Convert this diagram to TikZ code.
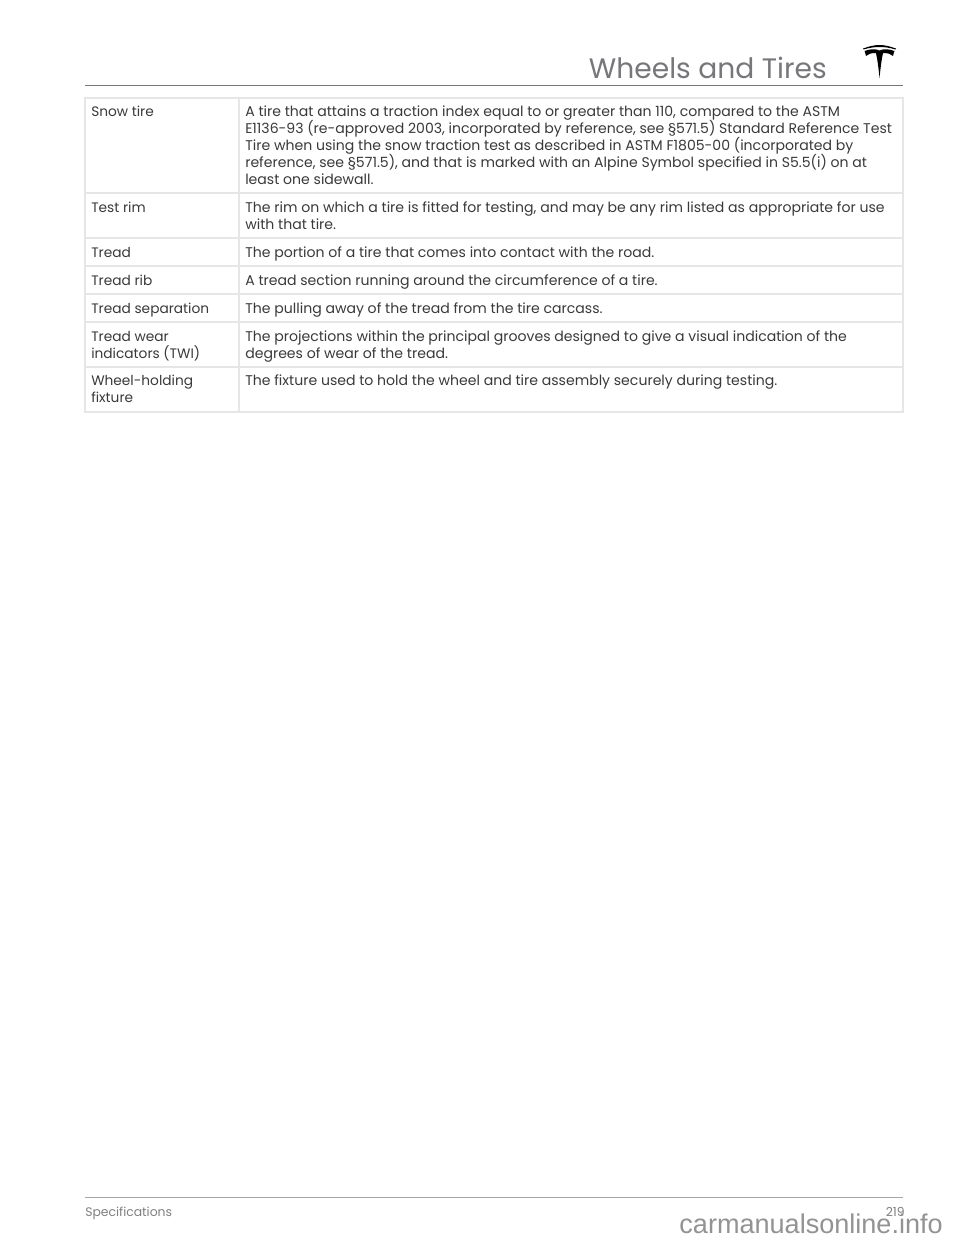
\documentclass[tikz,border=0pt]{standalone}
\usepackage{fontspec}
\setmainfont{Poppins}
\newfontfamily\markfont{Liberation Sans}
\usetikzlibrary{positioning}
\definecolor{bodyink}{HTML}{3A3A3A}
\definecolor{titleink}{HTML}{77777B}
\definecolor{ruleink}{HTML}{E6E6E6}
\tikzset{
    celltext/.style={anchor=base west, inner sep=0pt, text=bodyink, font=\fontsize{10.55}{12.75}\selectfont, align=left},
    termtext/.style={celltext, font=\fontsize{10.3}{12.75}\selectfont},
    gridline/.style={draw=ruleink, line width=1.5pt},
}
\begin{document}
\begin{tikzpicture}[x=0.75pt, y=-0.75pt]
    \useasboundingbox (0,0) rectangle (960,1242);
    \fill[white] (0,0) rectangle (960,1242);

    % Header
    \node[anchor=base east, inner sep=0pt, text=titleink, font=\fontsize{21.1}{26}\selectfont] (title) at (827,78) {Wheels and Tires};
    % logo: arc and T
    \fill[black] (863,48.5) .. controls (870,46) and (875,45) .. (879.5,45) .. controls (884,45) and (889,46) .. (896,48.5)
        -- (895.5,49.5) .. controls (889,47.5) and (884,47) .. (879.5,47) .. controls (875,47) and (870,47.5) .. (863.5,49.5) -- cycle;
    \fill[black] (879.5,78) .. controls (878.5,68) and (877.5,60) .. (876,53) .. controls (871,53) and (868,54) .. (866,56)
        .. controls (865.5,54) and (865,52) .. (864.5,51) .. controls (870,49) and (875,48.5) .. (879.5,50.5)
        .. controls (884,48.5) and (889,49) .. (894.5,51) .. controls (894,52) and (893.5,54) .. (893,56)
        .. controls (891,54) and (888,53) .. (883,53) .. controls (881.5,60) and (880.5,68) .. (879.5,78) -- cycle;
    \draw[draw=titleink, line width=1.1pt] (85,85.5) -- (903,85.5);

    % Table
    \draw[gridline] (85,98) rectangle (903,412);
    \draw[gridline] (239,98) -- (239,412);
    \foreach \rowy in {193,238,266,294,322,367}
        \draw[gridline] (85,\rowy) -- (903,\rowy);

    % Left column (anchored on last line)
    \node[termtext] (snow) at (91,116) {Snow tire};
    \node[termtext] (rim) at (91,212) {Test rim};
    \node[termtext] (tread) at (91,257) {Tread};
    \node[termtext] (rib) at (91,285) {Tread rib};
    \node[termtext] (sep) at (91,313) {Tread separation};
    \node[termtext] (wear) at (91,358) {Tread wear\\indicators (TWI)};
    \node[termtext] (fixture) at (91,402) {Wheel-holding\\fixture};

    % Right column (anchored on last line)
    \node[celltext] (snowdef) at (245,184) {A tire that attains a traction index equal to or greater than 110, compared to the ASTM\\E1136-93 (re-approved 2003, incorporated by reference, see §571.5) Standard Reference Test\\Tire when using the snow traction test as described in ASTM F1805-00 (incorporated by\\reference, see §571.5), and that is marked with an Alpine Symbol specified in S5.5(i) on at\\least one sidewall.};
    \node[celltext] (rimdef) at (245,229) {The rim on which a tire is fitted for testing, and may be any rim listed as appropriate for use\\with that tire.};
    \node[celltext] (treaddef) at (245,257) {The portion of a tire that comes into contact with the road.};
    \node[celltext] (ribdef) at (245,285) {A tread section running around the circumference of a tire.};
    \node[celltext] (sepdef) at (245,313) {The pulling away of the tread from the tire carcass.};
    \node[celltext] (weardef) at (245,358) {The projections within the principal grooves designed to give a visual indication of the\\degrees of wear of the tread.};
    \node[celltext] (fixturedef) at (245,385) {The fixture used to hold the wheel and tire assembly securely during testing.};

    % Footer
    \draw[draw=gray!70, line width=0.7pt] (85,1197) -- (903,1197);
    \node[anchor=base west, inner sep=0pt, text=gray, font=\fontsize{9.3}{11}\selectfont] (section) at (85,1216) {Specifications};
    \node[anchor=base east, inner sep=0pt, text=gray, font=\fontsize{9.3}{11}\selectfont] (page) at (905,1216) {219};
    \node[anchor=base east, inner sep=0pt, text=gray!85, font=\markfont\fontsize{20.3}{22}\selectfont] (mark) at (943,1233) {carmanualsonline.info};
\end{tikzpicture}
\end{document}
